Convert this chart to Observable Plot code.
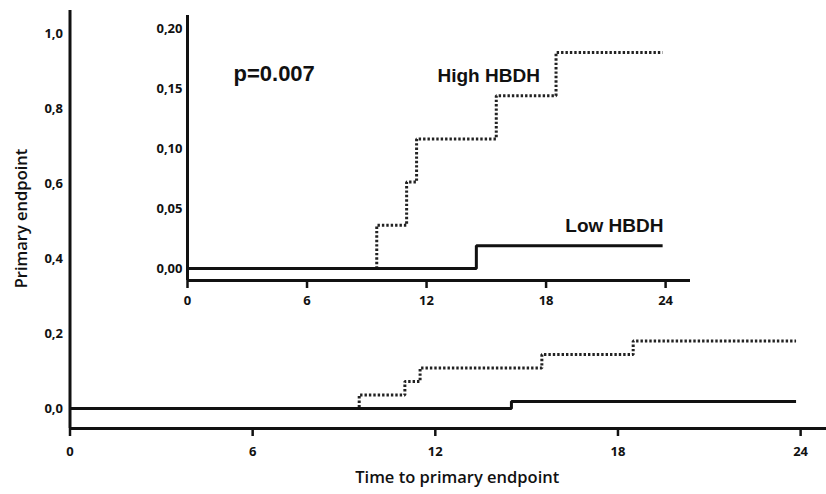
<!DOCTYPE html>
<html><head><meta charset="utf-8">
<script src="https://cdn.jsdelivr.net/npm/d3@7"></script>
<script src="https://cdn.jsdelivr.net/npm/@observablehq/plot@0.6"></script>
<style>
html,body{margin:0;padding:0;background:#fff;}
#wrap{position:relative;width:826px;height:494px;overflow:hidden;background:#fff;}
#main,#inset{position:absolute;top:0;}
#main{left:0}
#inset{left:100px}
#wrap svg{background:transparent !important;overflow:visible}
[aria-label="x-axis tick"] path{stroke-width:2.5px}
</style></head><body>
<div id="wrap"><div id="main"></div><div id="inset"></div></div>
<script>
// ---- data ----
const highMonths = [0, 9.5, 11.0, 11.5, 15.5, 18.5, 23.85];
const highHBDH   = [0, 0.036, 0.072, 0.108, 0.144, 0.180, 0.180];
const lowMonths  = [0, 14.5, 23.85];
const lowHBDH    = [0, 0.019, 0.019];
const xTicks      = [0, 6, 12, 18, 24];
const mainYTicks  = [0, 0.2, 0.4, 0.6, 0.8, 1.0];
const insetYTicks = [0, 0.05, 0.10, 0.15, 0.20];
const pLabel = "p=0.007";
const highLabel = "High HBDH";
const lowLabel = "Low HBDH";
const xTitle = "Time to primary endpoint";
const yTitle = "Primary endpoint";

const high = highMonths.map((t, i) => ({t, v: highHBDH[i]}));
const low  = lowMonths.map((t, i) => ({t, v: lowHBDH[i]}));

const tickFont = {fontFamily: "'Open Sans', sans-serif", fontSize: "13px", fontWeight: "bold", background: "transparent", color: "#111"};
const dotted = {curve: "step-after", stroke: "#222", strokeWidth: 3, strokeDasharray: "2.4,2", strokeLinecap: "butt", strokeLinejoin: "miter"};
const solid = {curve: "step-after", stroke: "#111", strokeWidth: 3, strokeLinecap: "butt", strokeLinejoin: "miter"};

// ---- main chart ----
const mainX = [0, 24.85], mainY = [-0.0533, 1.0613];
const main = Plot.plot({
  width: 826, height: 494,
  marginLeft: 69.5, marginRight: 0, marginTop: 10, marginBottom: 66,
  style: tickFont,
  x: {domain: mainX, ticks: xTicks, tickSize: 8, tickPadding: 10, tickFormat: d => String(d), label: null},
  y: {domain: mainY, ticks: mainYTicks, tickSize: 0, tickPadding: 7, tickFormat: d => d.toFixed(1).replace(".", ","), label: null},
  marks: [
    Plot.line(high, {x: "t", y: "v", ...dotted}),
    Plot.line(low, {x: "t", y: "v", ...solid}),
    Plot.ruleX([mainX[0]], {stroke: "#111", strokeWidth: 3}),
    Plot.ruleY([mainY[0]], {stroke: "#111", strokeWidth: 3}),
    Plot.text([xTitle], {frameAnchor: "bottom", textAnchor: "middle", dx: 9, dy: 54, fontSize: 16.5, fontWeight: 600, fontFamily: "'Open Sans', sans-serif", fill: "#111"}),
    Plot.text([yTitle], {frameAnchor: "left", textAnchor: "middle", rotate: -90, dx: -48, dy: -1, fontSize: 16.5, fontWeight: 600, fontFamily: "'Open Sans', sans-serif", fill: "#111"})
  ]
});
document.getElementById("main").appendChild(main);

// ---- inset chart ----
const insetX = [0, 25.25], insetY = [-0.01, 0.2108];
const inset = Plot.plot({
  width: 600, height: 320,
  marginLeft: 87, marginRight: 10, marginTop: 15, marginBottom: 40,
  style: tickFont,
  x: {domain: insetX, ticks: xTicks, tickSize: 8, tickPadding: 7, tickFormat: d => String(d), label: null},
  y: {domain: insetY, ticks: insetYTicks, tickSize: 0, tickPadding: 5, tickFormat: d => d.toFixed(2).replace(".", ","), label: null},
  marks: [
    Plot.line(high, {x: "t", y: "v", ...dotted}),
    Plot.line(low, {x: "t", y: "v", ...solid}),
    Plot.ruleX([insetX[0]], {stroke: "#111", strokeWidth: 3}),
    Plot.ruleY([insetY[0]], {stroke: "#111", strokeWidth: 3}),
    Plot.text([pLabel], {frameAnchor: "top-left", textAnchor: "start", lineAnchor: "middle", dx: 46, dy: 58, fontSize: 22, fontWeight: "bold", fontFamily: "'Liberation Sans', Arial, sans-serif", fill: "#111"}),
    Plot.text([highLabel], {frameAnchor: "top-left", textAnchor: "start", lineAnchor: "middle", dx: 250, dy: 60, fontSize: 19, fontWeight: "bold", fontFamily: "'Liberation Sans', Arial, sans-serif", fill: "#111"}),
    Plot.text([lowLabel], {frameAnchor: "top-right", textAnchor: "end", lineAnchor: "middle", dx: -27, dy: 210, fontSize: 19, fontWeight: "bold", fontFamily: "'Liberation Sans', Arial, sans-serif", fill: "#111"})
  ]
});
document.getElementById("inset").appendChild(inset);
</script>
</body></html>
